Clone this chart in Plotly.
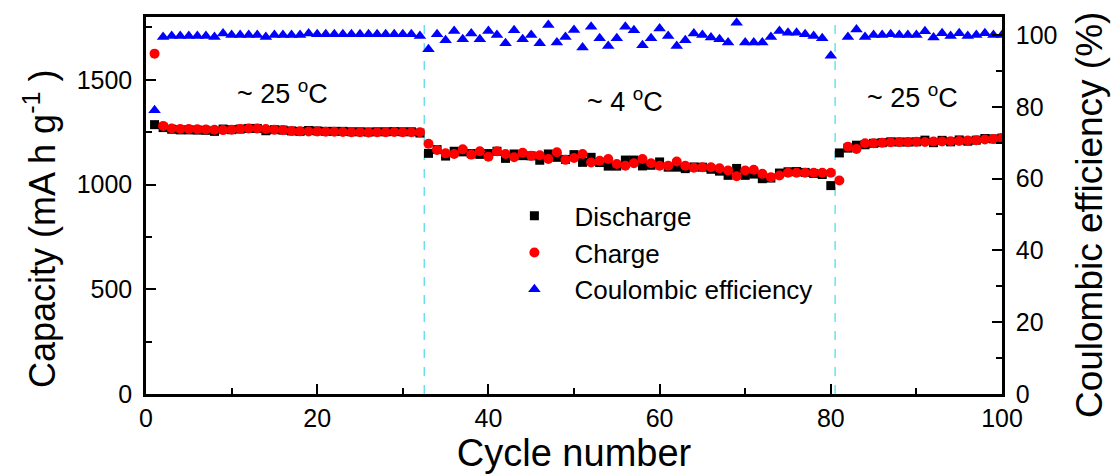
import plotly.graph_objects as go

# Cycle index
cycles = list(range(1, 101))

# Discharge capacity (mA h g-1)
discharge = [
    1286, 1272, 1264, 1261, 1261, 1260, 1259, 1254, 1265, 1262,
    1265, 1268, 1268, 1257, 1262, 1260, 1256, 1254, 1258, 1256,
    1254, 1254, 1254, 1252, 1252, 1251, 1252, 1252, 1253, 1252,
    1252, 1246,
    1149, 1167, 1136, 1159, 1156, 1148, 1144, 1148, 1159, 1125,
    1146, 1138, 1137, 1116, 1146, 1130, 1120, 1143, 1106, 1130,
    1105, 1088, 1088, 1117, 1117, 1089, 1092, 1108, 1083, 1083,
    1076, 1084, 1083, 1073, 1064, 1044, 1077, 1044, 1050, 1028,
    1031, 1055, 1061, 1062, 1058, 1053, 1048, 995,
    1151, 1174, 1188, 1190, 1197, 1200, 1204, 1203, 1203, 1204,
    1212, 1200, 1211, 1204, 1213, 1207, 1212, 1220, 1218, 1222,
]

# Charge capacity (mA h g-1)
charge = [
    1625, 1280, 1268, 1265, 1265, 1264, 1263, 1262, 1260, 1262,
    1265, 1268, 1268, 1265, 1262, 1260, 1256, 1254, 1253, 1253,
    1252, 1252, 1251, 1250, 1250, 1249, 1250, 1250, 1251, 1250,
    1250, 1250,
    1195, 1165, 1149, 1146, 1168, 1143, 1159, 1133, 1159, 1146,
    1130, 1152, 1137, 1140, 1122, 1154, 1118, 1127, 1146, 1105,
    1114, 1122, 1098, 1090, 1102, 1122, 1102, 1090, 1090, 1110,
    1090, 1080, 1083, 1083, 1078, 1067, 1040, 1067, 1071, 1051,
    1035, 1043, 1056, 1056, 1056, 1056, 1056, 1056,
    1019, 1181, 1170, 1197, 1197, 1200, 1202, 1203, 1203, 1204,
    1203, 1206, 1206, 1207, 1208, 1210, 1212, 1215, 1218, 1222,
]

# Coulombic efficiency (%)
efficiency = [
    79.0, 99.4, 99.7, 99.7, 99.7, 99.7, 99.7, 99.4, 100.4, 100.0,
    100.0, 100.0, 100.0, 99.4, 100.0, 100.0, 100.0, 100.0, 100.4, 100.2,
    100.2, 100.2, 100.2, 100.2, 100.2, 100.2, 100.2, 100.2, 100.2, 100.2,
    100.2, 99.7,
    96.0, 100.2, 98.5, 101.1, 98.8, 100.4, 98.8, 101.1, 100.0, 97.7,
    101.3, 98.8, 100.0, 97.7, 102.8, 97.9, 99.4, 101.4, 96.5, 102.3,
    99.1, 96.9, 99.1, 102.3, 101.3, 97.1, 99.1, 101.8, 99.7, 96.9,
    98.5, 100.4, 100.0, 99.3, 98.8, 97.9, 103.4, 97.9, 97.9, 97.9,
    99.4, 101.1, 100.6, 100.6, 100.2, 99.7, 99.1, 94.2,
    113.0, 99.4, 101.5, 99.4, 100.0, 100.0, 100.2, 100.0, 100.0, 100.0,
    101.0, 99.3, 100.5, 99.7, 100.5, 99.7, 100.0, 100.5, 100.0, 100.0,
]

# Temperature stages: boundaries between stages and their labels
stage_bounds = [32.5, 80.5]
stage_labels = ["~ 25 <sup>o</sup>C", "~ 4 <sup>o</sup>C", "~ 25 <sup>o</sup>C"]
stage_centers = [16, 56, 89.5]
stage_heights = [1440, 1405, 1425]

FONT = "Liberation Sans, Arial, sans-serif"

fig = go.Figure()

fig.add_trace(go.Scatter(
    x=cycles, y=discharge, mode="markers", name="Discharge",
    marker=dict(symbol="square", size=9, color="#000000"),
))
fig.add_trace(go.Scatter(
    x=cycles, y=charge, mode="markers", name="Charge",
    marker=dict(symbol="circle", size=10, color="#ff0000"),
))
fig.add_trace(go.Scatter(
    x=cycles, y=efficiency, mode="markers", name="Coulombic efficiency",
    marker=dict(symbol="triangle-up", size=11, color="#0000ff"),
    yaxis="y2",
))

for xb in stage_bounds:
    fig.add_shape(type="line", xref="x", yref="paper", x0=xb, x1=xb, y0=0, y1=1,
                  line=dict(color="#22d3e6", width=1, dash="dash"), layer="below")

for label, xc, yc in zip(stage_labels, stage_centers, stage_heights):
    fig.add_annotation(x=xc, y=yc, xref="x", yref="y", text=label, showarrow=False,
                       font=dict(size=27, color="#000000", family=FONT))

# Vertical axis titles, placed as rotated text beside each axis
fig.add_annotation(x=-0.124, y=0.44, xref="paper", yref="paper", textangle=-90,
                   text="Capacity (mA h g<sup>-1</sup> )", showarrow=False,
                   xanchor="center", yanchor="middle",
                   font=dict(size=36, color="#000000", family=FONT))
fig.add_annotation(x=1.103, y=0.475, xref="paper", yref="paper", textangle=-90,
                   text="Coulombic efficiency (%)", showarrow=False,
                   xanchor="center", yanchor="middle",
                   font=dict(size=37, color="#000000", family=FONT))


def axis_style(**extra):
    style = dict(
        showgrid=False, zeroline=False, showline=True, linecolor="#000000", linewidth=2.5,
        ticks="inside", ticklen=10, tickwidth=2, tickcolor="#000000",
        tickfont=dict(size=25, color="#000000", family=FONT),
    )
    style.update(extra)
    return style


minor_ticks = dict(ticks="inside", ticklen=6, tickwidth=2, tickcolor="#000000")

fig.update_layout(
    width=1115, height=475,
    margin=dict(l=146, r=113, t=17, b=81),
    paper_bgcolor="#ffffff", plot_bgcolor="#ffffff",
    font=dict(family=FONT, color="#000000"),
    xaxis=axis_style(
        range=[0, 100], dtick=20, mirror=True,
        minor=dict(dtick=10, **minor_ticks),
        title=dict(text="Cycle number", font=dict(size=38, family=FONT), standoff=3),
    ),
    yaxis=axis_style(
        range=[0, 1800], tickvals=[0, 500, 1000, 1500], ticklabelstandoff=6,
        minor=dict(dtick=250, **minor_ticks),
    ),
    yaxis2=axis_style(
        range=[0, 105], tickvals=[0, 20, 40, 60, 80, 100], overlaying="y", side="right",
        ticklabelstandoff=6,
        minor=dict(dtick=10, **minor_ticks),
    ),
    legend=dict(
        x=0.407, y=0.535, xanchor="left", yanchor="top",
        bgcolor="rgba(0,0,0,0)", font=dict(size=26, family=FONT, color="#000000"),
        tracegroupgap=0, itemwidth=70,
    ),
    showlegend=True,
)

fig.write_html("out.html")
